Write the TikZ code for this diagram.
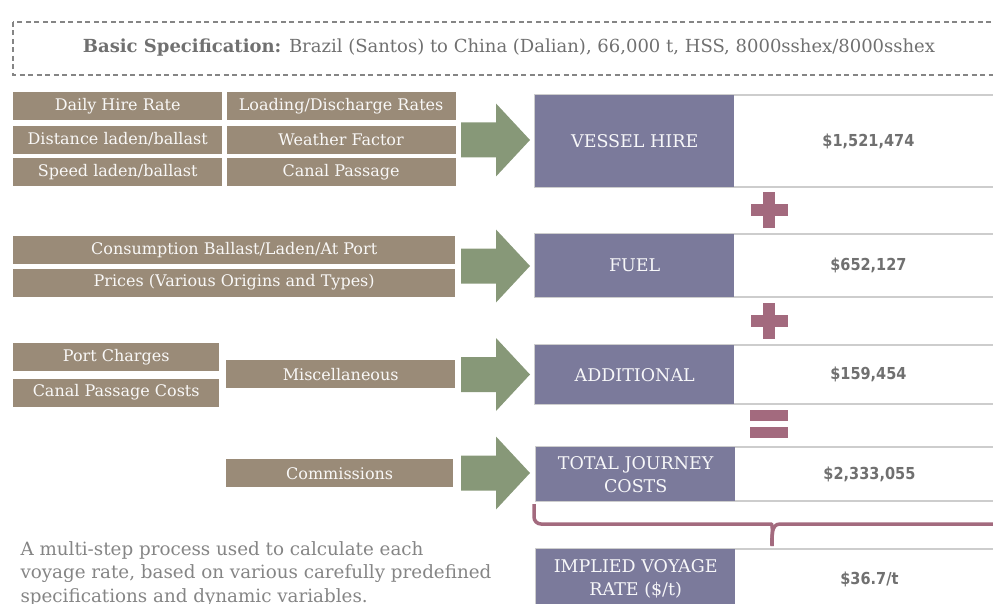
\documentclass[tikz,border=0pt]{standalone}
\usepackage{fontspec}
\setmainfont{DejaVu Serif}
\newfontfamily\valfont{DejaVu Sans}[FakeStretch=0.88]
\usepackage{xcolor}
\usetikzlibrary{positioning}
\definecolor{inbrown}{RGB}{154,139,120}
\definecolor{flowgreen}{RGB}{135,152,120}
\definecolor{costpurple}{RGB}{123,122,155}
\definecolor{opmauve}{RGB}{163,106,126}
\definecolor{txtgray}{RGB}{112,112,112}
\definecolor{rulegray}{RGB}{205,205,205}

\tikzset{
  input/.style={fill=inbrown, text=white!94!inbrown, minimum height=28pt, inner sep=0pt,
    font=\fontsize{16}{18}\selectfont},
  cost/.style={fill=costpurple, text=white!94!costpurple, inner sep=0pt, align=center,
    minimum width=199pt, font=\fontsize{17.5}{23}\selectfont},
  value/.style={text=txtgray, font=\valfont\bfseries\fontsize{16.5}{19}\selectfont},
  rowrule/.style={draw=rulegray, line width=1.2pt},
  brace/.style={draw=opmauve, line width=3.5pt},
  pics/flowarrow/.style={code={
    \fill[flowgreen] (0,-17.5) -- (35,-17.5) -- (35,-36.5) -- (69,0) -- (35,36.5)
      -- (35,17.5) -- (0,17.5) -- cycle;}},
  pics/plussign/.style={code={
    \fill[opmauve] (-18.5,-6) rectangle (18.5,6);
    \fill[opmauve] (-6,-18) rectangle (6,18);}},
  pics/equalsign/.style={code={
    \fill[opmauve] (-19,-14) rectangle (19,-3);
    \fill[opmauve] (-19,3) rectangle (19,14);}},
}

\begin{document}
\begin{tikzpicture}[x=1pt, y=-1pt]
\useasboundingbox (0,0) rectangle (993,604);
% specification banner
\draw[txtgray!85, line width=1.6pt, dash pattern=on 5pt off 3.5pt] (13,22) rectangle (1010,75);
\node[text=txtgray, font=\fontsize{18}{21}\selectfont] (spec) at (509,48)
  {\textbf{Basic Specification:} Brazil (Santos) to China (Dalian), 66,000 t, HSS, 8000sshex/8000sshex};

% vessel hire inputs
\node[input, minimum width=209pt, anchor=north west] (hire) at (13,92) {Daily Hire Rate};
\node[input, minimum width=209pt, below=5pt of hire] (dist) {Distance laden/ballast};
\node[input, minimum width=209pt, below=4pt of dist] (speed) {Speed laden/ballast};
\node[input, minimum width=229pt, right=4pt of hire] (load) {Loading/Discharge Rates};
\node[input, minimum width=229pt, right=4pt of dist] (weather) {Weather Factor};
\node[input, minimum width=229pt, right=4pt of speed] (canal) {Canal Passage};

% fuel inputs
\node[input, minimum width=442pt, anchor=north west] (cons) at (13,236) {Consumption Ballast/Laden/At Port};
\node[input, minimum width=442pt, below=4pt of cons] (prices) {Prices (Various Origins and Types)};

% additional inputs
\node[input, minimum width=206pt, anchor=north west] (port) at (13,343) {Port Charges};
\node[input, minimum width=206pt, below=7pt of port] (canalcost) {Canal Passage Costs};
\node[input, minimum width=229pt, anchor=north west] (misc) at (226,360) {Miscellaneous};

% commissions
\node[input, minimum width=227pt, anchor=north west] (comm) at (226,459) {Commissions};

% arrows
\pic at (461,140) {flowarrow};
\pic at (461,266) {flowarrow};
\pic at (461,374.5) {flowarrow};
\pic at (461,473) {flowarrow};

% cost rows
\draw[rowrule] (535,95) rectangle (1010,187);
\node[cost, minimum height=92pt, anchor=north west] (vessel) at (535,95) {VESSEL HIRE};
\node[value] (vesselval) at ([xshift=134pt]vessel.east) {\$1,521,474};

\draw[rowrule] (535,234) rectangle (1010,297);
\node[cost, minimum height=63pt, anchor=north west] (fuel) at (535,234) {FUEL};
\node[value] (fuelval) at ([xshift=134pt]fuel.east) {\$652,127};

\draw[rowrule] (535,345) rectangle (1010,404);
\node[cost, minimum height=59pt, anchor=north west] (addl) at (535,345) {ADDITIONAL};
\node[value] (addlval) at ([xshift=134pt]addl.east) {\$159,454};

\draw[rowrule] (536,447) rectangle (1010,501);
\node[cost, minimum height=54pt, anchor=north west] (total) at (536,447) {TOTAL JOURNEY\\COSTS};
\node[value] (totalval) at ([xshift=134pt]total.east) {\$2,333,055};

\draw[rowrule] (536,549) rectangle (1010,620);
\node[cost, minimum height=60pt, anchor=north west] (rate) at (536,549) {IMPLIED VOYAGE\\RATE (\$/t)};
\node[value] (rateval) at ([xshift=134pt]rate.east) {\$36.7/t};

% operators
\pic at (769,210) {plussign};
\pic at (769,321) {plussign};
\pic at (769,424) {equalsign};

% brace
\draw[brace, rounded corners=7pt] (534,504) |- (764,524) to[out=0,in=90] (772,546);
\draw[brace] (1010,524) -- (780,524) to[out=180,in=90] (772,546);

% note
\node[anchor=north west, align=left, text=txtgray!85, font=\fontsize{18.3}{23.5}\selectfont] (note) at (17,538)
  {A multi-step process used to calculate each\\
   voyage rate, based on various carefully predefined\\
   specifications and dynamic variables.};
\end{tikzpicture}
\end{document}
